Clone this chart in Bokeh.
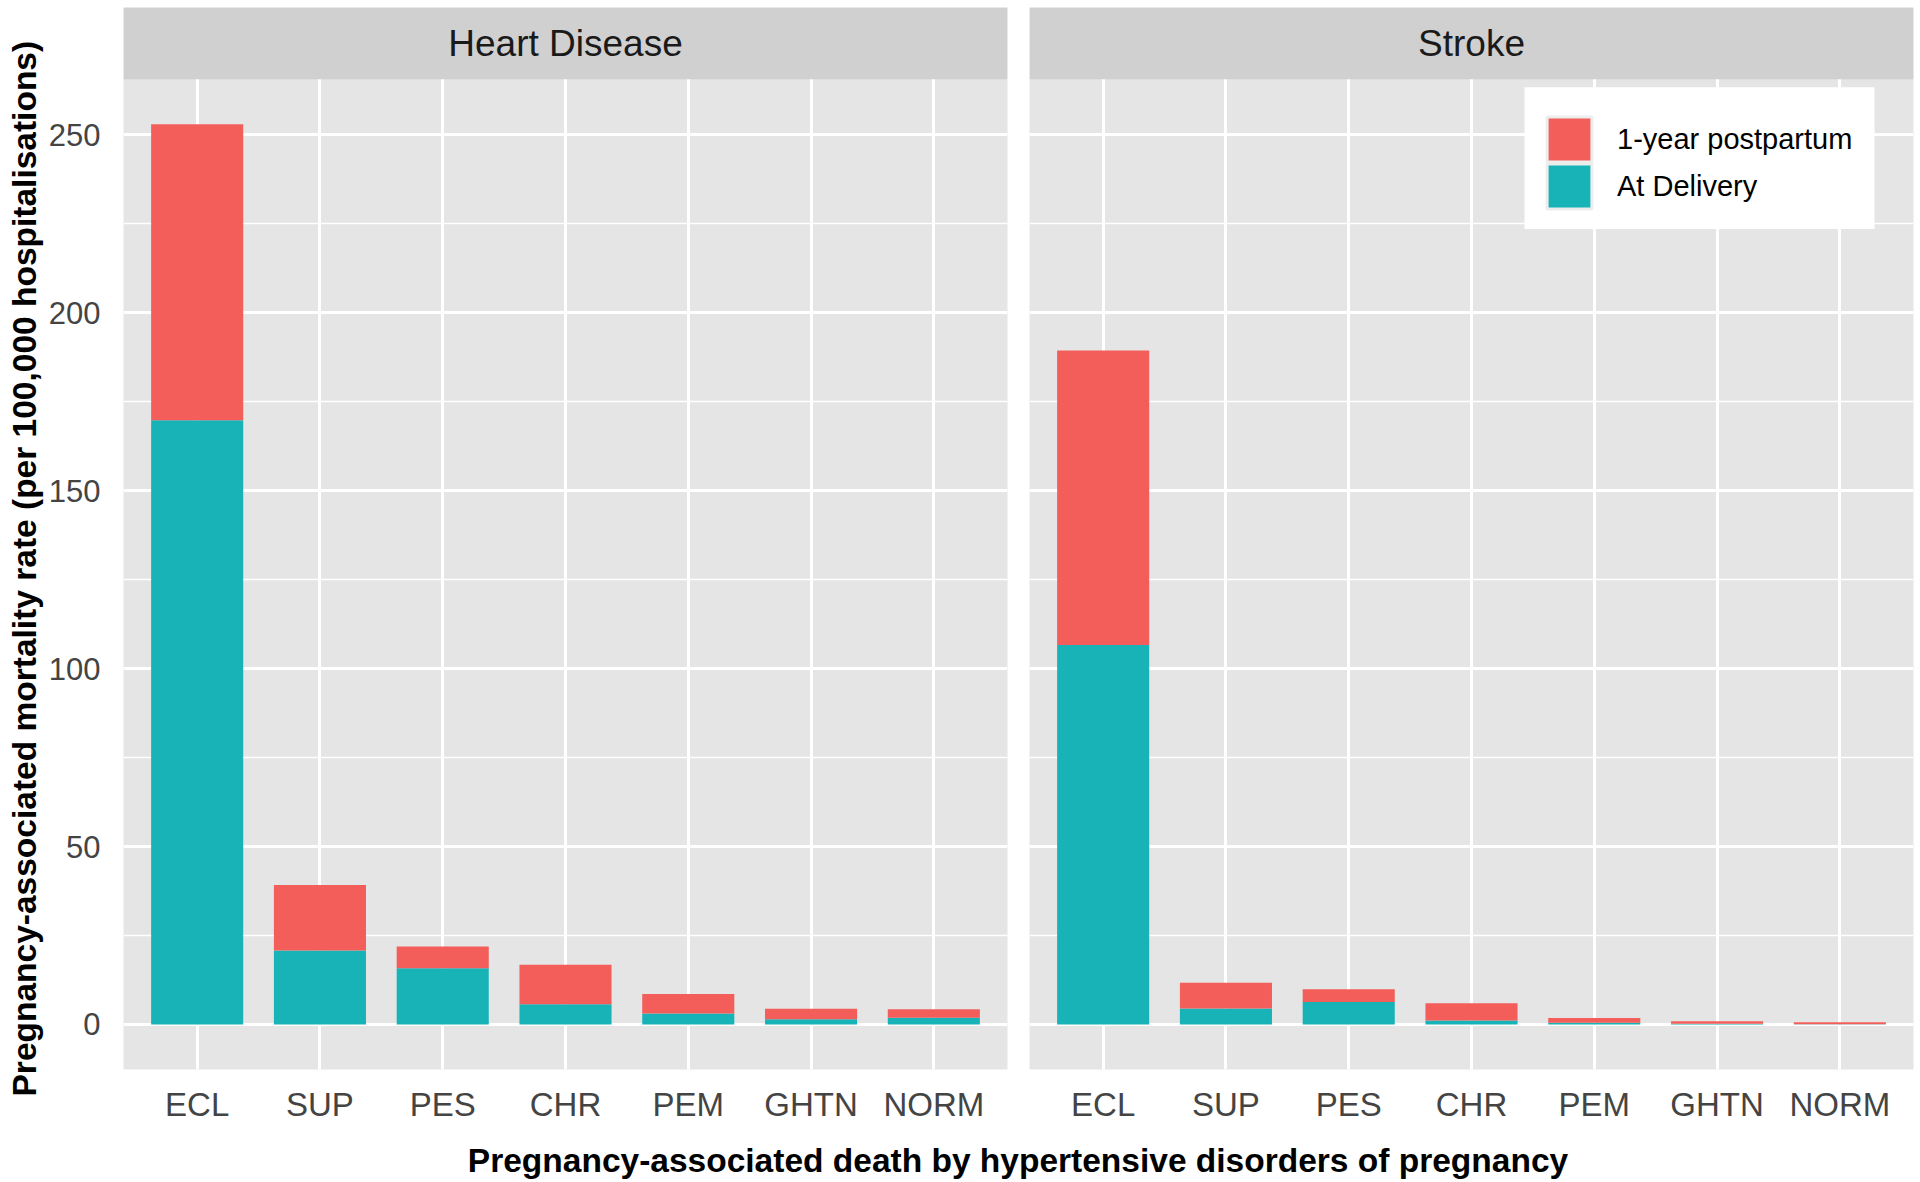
from bokeh.plotting import figure
from bokeh.layouts import row, column
from bokeh.models import (ColumnDataSource, FactorRange, Range1d, FixedTicker,
                          BoxAnnotation, Label, Legend, LegendItem, Title)
from bokeh.embed import file_html
from bokeh.resources import INLINE

# ---------------- data ----------------
categories = ["ECL", "SUP", "PES", "CHR", "PEM", "GHTN", "NORM"]
facets = ["Heart Disease", "Stroke"]

heart_delivery = [169.8, 20.8, 15.8, 5.7, 3.1, 1.5, 1.9]
heart_postpartum = [83.1, 18.4, 6.1, 11.1, 5.5, 2.9, 2.4]

stroke_delivery = [106.6, 4.5, 6.3, 1.1, 0.5, 0.2, 0.1]
stroke_postpartum = [82.8, 7.2, 3.6, 4.9, 1.3, 0.7, 0.5]

series_labels = ["1-year postpartum", "At Delivery"]
y_ticks = [0, 50, 100, 150, 200, 250]
y_minor = [25, 75, 125, 175, 225]

x_title = "Pregnancy-associated death by hypertensive disorders of pregnancy"
y_title = "Pregnancy-associated mortality rate (per 100,000 hospitalisations)"

# ---------------- style ----------------
RED = "#F35E5A"
TEAL = "#18B3B7"
PANEL_BG = "#E5E5E5"
STRIP_BG = "#D0D0D0"
FONT = "Liberation Sans"

TOP = 7
PANEL_H = 992    # px of data panel
STRIP_H = 72     # px of strip
FRAME_H = PANEL_H + STRIP_H
BOTTOM = 54
LEFT = 122
GAP_L, GAP_R = 11, 11
RIGHT = 7
W1 = 1018
W2 = 1920 - W1
FRAME_W2 = W2 - GAP_R - RIGHT
X_PAD = 0.1

totals = [d + p for d, p in zip(heart_delivery + stroke_delivery,
                                 heart_postpartum + stroke_postpartum)]
ymax = max(totals)
pad = 0.05 * ymax
y_lo, y_hi = -pad, ymax + pad
units_per_px = (y_hi - y_lo) / PANEL_H
y_top = y_hi + STRIP_H * units_per_px

y_range = Range1d(y_lo, y_top)


def make_panel(name, delivery, postpartum, width, left, right, show_y):
    src = ColumnDataSource(dict(cat=categories, delivery=delivery,
                                postpartum=postpartum))
    xr = FactorRange(factors=categories, range_padding=X_PAD,
                     range_padding_units="absolute")
    p = figure(x_range=xr, y_range=y_range, width=width,
               height=TOP + FRAME_H + BOTTOM, output_backend="svg",
               toolbar_location=None, min_border_left=left,
               min_border_right=right, min_border_top=TOP,
               min_border_bottom=BOTTOM)
    p.background_fill_color = PANEL_BG
    p.border_fill_color = "white"
    p.outline_line_color = None

    p.vbar_stack(["delivery", "postpartum"], x="cat", width=0.75, source=src,
                 fill_color=[TEAL, RED], line_color=None)

    # grid
    p.xgrid.grid_line_color = "white"
    p.xgrid.grid_line_width = 3
    p.ygrid.grid_line_color = "white"
    p.ygrid.grid_line_width = 3
    p.ygrid.minor_grid_line_color = "white"
    p.ygrid.minor_grid_line_width = 1.5
    p.yaxis.ticker = FixedTicker(ticks=y_ticks, minor_ticks=y_minor)

    # axes
    for ax in (p.xaxis[0], p.yaxis[0]):
        ax.axis_line_color = None
        ax.major_tick_line_color = None
        ax.minor_tick_line_color = None
        ax.major_tick_out = 0
        ax.major_tick_in = 0
        ax.minor_tick_out = 0
        ax.minor_tick_in = 0
        ax.major_label_text_font = FONT
        ax.major_label_text_color = "#444444"
    p.xaxis.major_label_text_font_size = "33px"
    p.yaxis.major_label_text_font_size = "31px"
    p.xaxis.major_label_standoff = 16
    p.yaxis.major_label_standoff = 23
    if not show_y:
        p.yaxis.visible = False

    # strip
    p.add_layout(BoxAnnotation(bottom=y_hi, fill_color=STRIP_BG, fill_alpha=1,
                               line_color=None))
    p.add_layout(Label(x=len(categories) / 2, y=(y_hi + y_top) / 2, text=name,
                       text_align="center", text_baseline="middle",
                       text_font=FONT, text_font_size="37px",
                       text_color="#1A1A1A"))
    return p


p1 = make_panel(facets[0], heart_delivery, heart_postpartum, W1, LEFT, GAP_L, True)
p2 = make_panel(facets[1], stroke_delivery, stroke_postpartum, W2, GAP_R, RIGHT, False)

p1.add_layout(Title(text=y_title, align="left", offset=-27, standoff=6,
                    text_font=FONT, text_font_size="33.5px",
                    text_font_style="bold", text_color="black"), "left")

# ---- legend ----
# helpers converting offsets inside the right panel frame (px) to its data units
x_units_per_px = (len(categories) + 2 * X_PAD) / FRAME_W2


def fx(px):
    return -X_PAD + px * x_units_per_px


def fy(px_from_top):
    return y_top - px_from_top * units_per_px


# white legend box (left, top, right, bottom in px inside the frame)
LB = (495, 80, 845, 222)
p2.add_layout(BoxAnnotation(left=fx(LB[0]), right=fx(LB[2]),
                            top=fy(LB[1]), bottom=fy(LB[3]),
                            fill_color="white", fill_alpha=1, line_color=None))

# legend proxies: hidden renderers that only carry the key styling
proxy = ColumnDataSource(dict(cat=[categories[0]], top=[0], bottom=[0]))
key_colors = [RED, TEAL]
key_tops = [106, 153]   # px from frame top of each key's glyph box
GLYPH = 56
for label, colr, ktop in zip(series_labels, key_colors, key_tops):
    r = p2.vbar(x="cat", top="top", bottom="bottom", width=0.75, source=proxy,
                fill_color=colr, line_color="#EDEDED", line_width=3,
                visible=False)
    lg = Legend(items=[LegendItem(label=label, renderers=[r])],
                location=(512, FRAME_H - ktop - GLYPH),
                glyph_width=GLYPH, glyph_height=GLYPH,
                spacing=0, padding=0, margin=0, label_standoff=20,
                label_text_font=FONT, label_text_font_size="29px",
                label_text_color="black", border_line_color=None,
                background_fill_alpha=0, inactive_fill_alpha=0)
    p2.add_layout(lg)

# x-axis title
TW = 1920
TH = 1180 - (TOP + FRAME_H + BOTTOM)
p3 = figure(width=TW, height=TH, x_range=Range1d(0, TW), y_range=Range1d(0, TH),
            output_backend="svg", toolbar_location=None, min_border=0,
            x_axis_location=None, y_axis_location=None)
p3.outline_line_color = None
p3.grid.visible = False
p3.add_layout(Label(x=(LEFT + 1920 - RIGHT) / 2, y=20, text=x_title,
                    text_align="center", text_baseline="alphabetic",
                    text_font=FONT, text_font_size="33.5px",
                    text_font_style="bold", text_color="black"))

layout = column(row(p1, p2), p3)
open("out.html", "w").write(file_html(layout, INLINE, title="chart"))
